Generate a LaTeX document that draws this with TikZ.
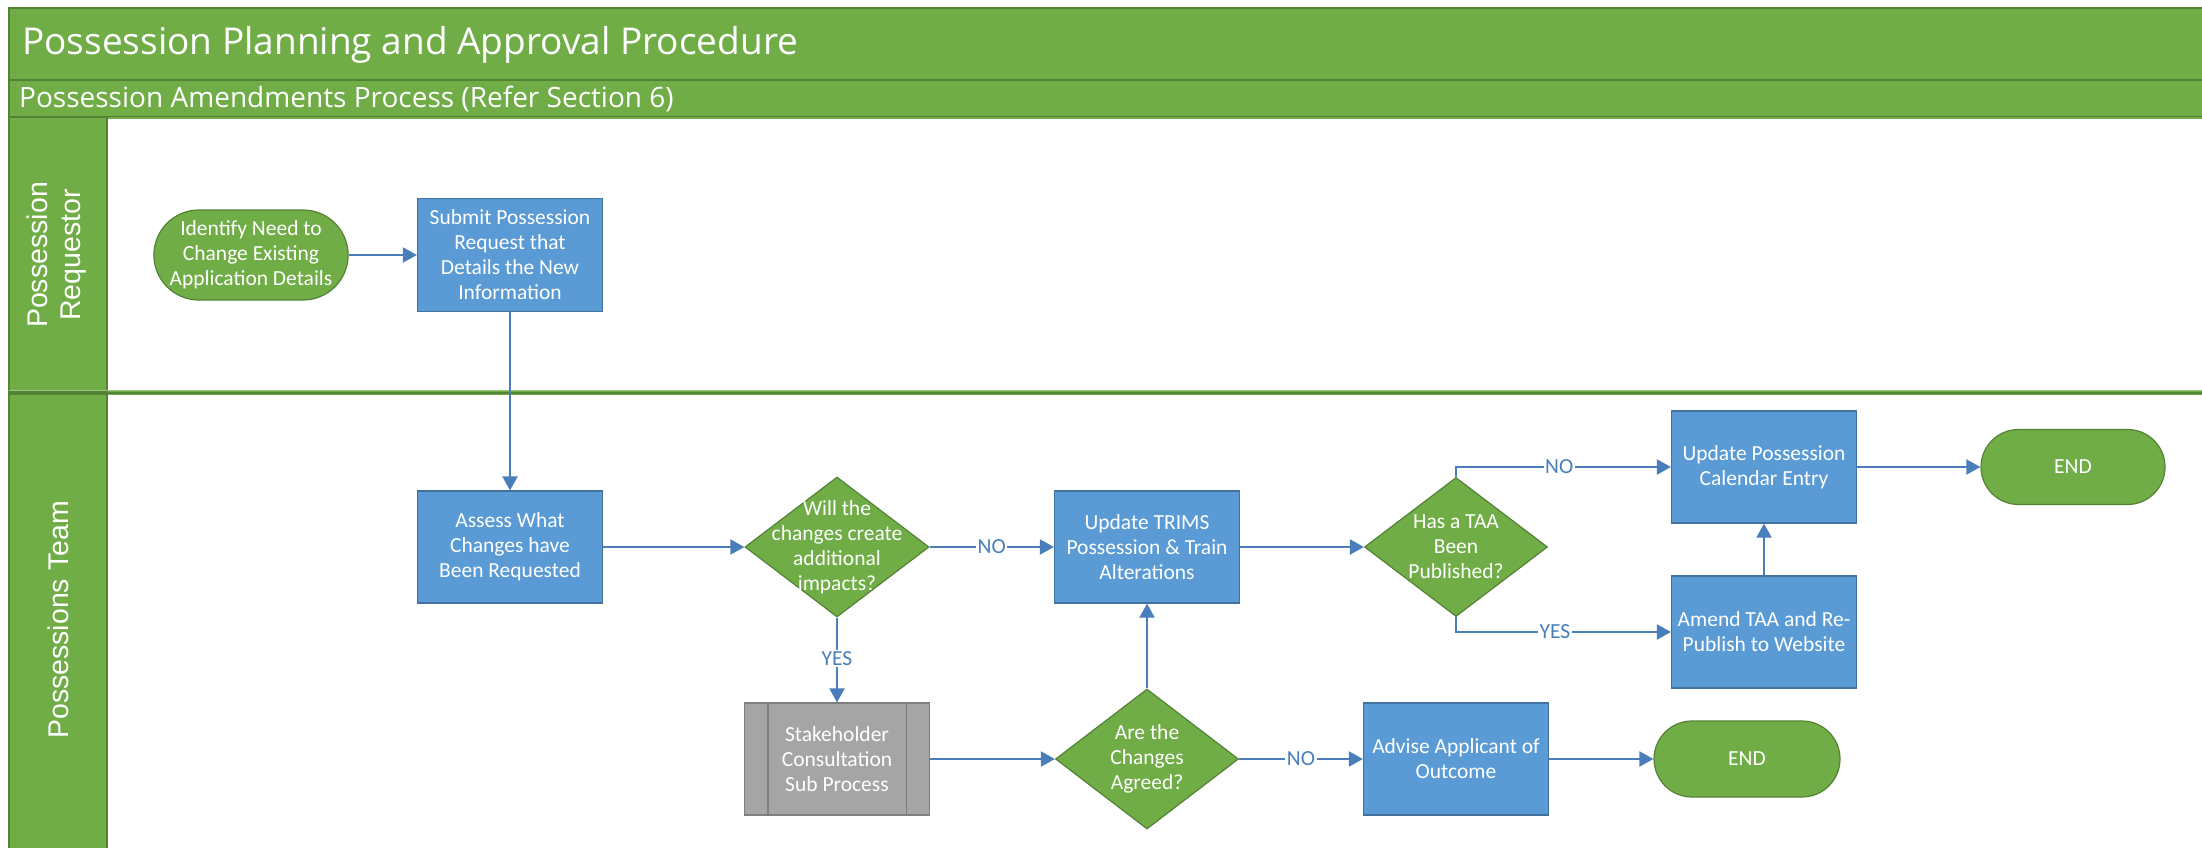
\documentclass[tikz,border=0pt]{standalone}
\usepackage{fontspec}
\setmainfont{Carlito}
\newfontfamily\headfont{Open Sans}
\newfontfamily\lanefont{Liberation Sans}
\usetikzlibrary{shapes.geometric,shapes.misc,arrows.meta}

\definecolor{laneGreen}{HTML}{70AD47}
\definecolor{laneEdge}{HTML}{548235}
\definecolor{taskBlue}{HTML}{5B9BD5}
\definecolor{taskEdge}{HTML}{41719C}
\definecolor{flowBlue}{HTML}{4A7EBB}
\definecolor{subGray}{HTML}{A5A5A5}
\definecolor{subEdge}{HTML}{7F7F7F}

\newcommand\flowtxt{\fontsize{21.5}{25}\selectfont}

\begin{document}
\begin{tikzpicture}[x=1pt,y=-1pt,
  task/.style={rectangle, draw=taskEdge, line width=1.2pt, fill=taskBlue,
    text=white, align=center, font=\flowtxt, inner sep=2pt,
    minimum width=185pt, minimum height=112pt},
  terminal/.style={rounded rectangle, draw=laneEdge, line width=1.2pt,
    fill=laneGreen, text=white, align=center, font=\flowtxt, inner sep=0pt,
    minimum width=186pt},
  decision/.style={diamond, draw=laneEdge, line width=1.2pt, fill=laneGreen,
    inner sep=0pt, minimum width=184pt, minimum height=140pt},
  dtext/.style={text=white, align=center, font=\flowtxt, inner sep=0pt},
  subproc/.style={rectangle, draw=subEdge, line width=1.2pt, fill=subGray,
    text=white, align=center, font=\flowtxt, inner sep=2pt,
    minimum width=185pt, minimum height=112pt},
  flow/.style={draw=flowBlue, line width=2pt,
    -{Triangle[length=14pt,width=15pt]}},
  tag/.style={fill=white, text=flowBlue, font=\flowtxt, inner sep=1.5pt},
  band/.style={fill=laneGreen, draw=laneEdge, line width=1.5pt},
  lanebody/.style={draw=laneGreen, line width=2.5pt},
  lanelabel/.style={text=white, align=center, rotate=90,
    font=\lanefont\fontsize{28.5}{33}\selectfont, inner sep=0pt}]

\path[use as bounding box] (0,0) rectangle (2202,848);
\clip (0,0) rectangle (2202,848);
\fill[white] (0,0) rectangle (2202,848);

% pool header bands
\path[band] (9,8) rectangle (2240,80);
\path[band] (9,80) rectangle (2240,117);
\node[anchor=west, text=white, inner sep=0pt,
  font=\headfont\fontsize{37}{40}\selectfont] (title) at (22,45)
  {Possession Planning and Approval Procedure};
\node[anchor=west, text=white, inner sep=0pt,
  font=\headfont\fontsize{28}{32}\selectfont] (subtitle) at (19,99)
  {Possession Amendments Process (Refer Section 6)};

% swimlanes
\path[lanebody] (107,118) rectangle (2240,391);
\path[band] (9,117) rectangle (107,392);
\path[lanebody] (107,394) rectangle (2240,880);
\path[band] (9,394) rectangle (107,880);
\draw[laneGreen!70, line width=1.5pt] (9,390.5) -- (2240,390.5);
\draw[laneEdge, line width=2.5pt] (9,393) -- (2240,393);
\node[lanelabel] (lane1) at (57,255) {Possession\\Requestor};
\node[lanelabel] (lane2) at (58,620) {Possessions Team};

% process steps
\node[terminal, minimum height=90pt] (start) at (251,255)
  {Identify Need to\\Change Existing\\Application Details};
\node[task, minimum height=113pt] (submit) at (510,255)
  {Submit Possession\\Request that\\Details the New\\Information};
\node[task] (assess) at (510,547) {Assess What\\Changes have\\Been Requested};
\node[decision] (d1) at (837,547) {};
\node[dtext] (d1t) at (d1) {Will the\\changes create\\additional\\impacts?};
\node[task] (trims) at (1147,547) {Update TRIMS\\Possession \& Train\\Alterations};
\node[decision, minimum width=183pt, minimum height=139pt] (taa) at (1456,547) {};
\node[dtext] (taat) at (taa) {Has a TAA\\Been\\Published?};
\node[task] (cal) at (1764,467) {Update Possession\\Calendar Entry};
\node[terminal, minimum width=184pt, minimum height=75pt] (end1) at (2073,467) {END};
\node[task] (amd) at (1764,632) {Amend TAA and Re-\\Publish to Website};
\node[subproc] (sub) at (837,759) {Stakeholder\\Consultation\\Sub Process};
\draw[subEdge, line width=1.2pt]
  ([xshift=24pt]sub.north west) -- ([xshift=24pt]sub.south west)
  ([xshift=-24pt]sub.north east) -- ([xshift=-24pt]sub.south east);
\node[decision, minimum width=183pt] (d2) at (1147,759) {};
\node[dtext] (d2t) at (d2) {Are the\\Changes\\Agreed?};
\node[task] (adv) at (1456,759) {Advise Applicant of\\Outcome};
\node[terminal, minimum height=76pt] (end2) at (1747,759) {END};

% connectors
\draw[flow] (start.east) -- (submit.west);
\draw[flow] (submit.south) -- (assess.north);
\draw[flow] (assess.east) -- (d1.west);
\draw[flow] (d1.east) -- node[tag] (no1) {NO} (trims.west);
\draw[flow] (d1.south) -- node[tag, pos=0.48] (yes1) {YES} (sub.north);
\draw[flow] (sub.east) -- (d2.west);
\draw[flow] (d2.north) -- (trims.south);
\draw[flow] (d2.east) -- node[tag] (no2) {NO} (adv.west);
\draw[flow] (adv.east) -- (end2.west);
\draw[flow] (trims.east) -- (taa.west);
\draw[flow] (taa.north) |- node[tag, pos=0.74] (no3) {NO} (cal.west);
\draw[flow] (taa.south) |- node[tag, pos=0.73] (yes3) {YES} (amd.west);
\draw[flow] (amd.north) -- (cal.south);
\draw[flow] (cal.east) -- (end1.west);
\end{tikzpicture}
\end{document}
